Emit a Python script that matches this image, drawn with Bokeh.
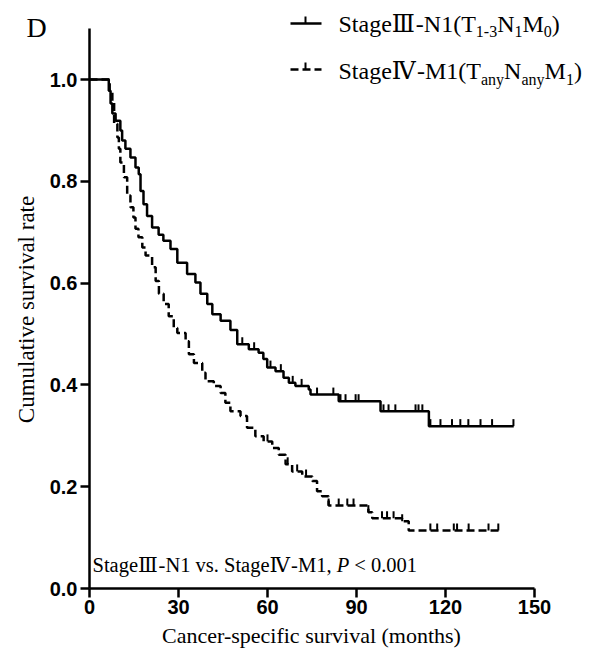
import numpy as np
from bokeh.plotting import figure
from bokeh.models import Range1d, FixedTicker, PrintfTickFormatter, Label
from bokeh.embed import file_html
from bokeh.resources import INLINE

# ---------------- data ----------------
# Stage III-N1 (solid)
t_solid = [6.5, 7.1, 7.7, 8.8, 10.4, 11.0, 12.1, 13.8, 15.5, 16.6, 17.2, 18.2, 19.4,
           21.1, 23.3, 24.9, 27.3, 29.6, 32.9, 35.7, 37.4, 39.7, 41.4, 44.2, 47.5,
           49.8, 53.7, 57.0, 58.6, 59.9, 62.7, 65.4, 67.2, 69.4, 73.9, 74.5, 84.0,
           98.1, 114.4]
s_solid = [0.978, 0.953, 0.933, 0.919, 0.900, 0.880, 0.864, 0.847, 0.827, 0.814, 0.781,
           0.755, 0.732, 0.709, 0.695, 0.683, 0.667, 0.640, 0.618, 0.601, 0.579, 0.559,
           0.539, 0.526, 0.508, 0.480, 0.470, 0.463, 0.451, 0.434, 0.427, 0.414, 0.404,
           0.398, 0.391, 0.381, 0.368, 0.348, 0.319]
end_solid = 143.0
cens_solid = [51.5, 55.5, 61.0, 64.5, 68.5, 71.5, 76.7, 82.2, 84.6, 86.3, 89.7, 90.7,
              99.1, 100.8, 103.1, 109.9, 110.9, 112.2, 114.9, 118.3, 122.2, 125.0,
              127.7, 131.8, 135.7, 142.9]

# Stage IV-M1 (dashed)
t_dash = [6.8, 7.7, 8.3, 9.4, 9.9, 10.4, 11.6, 12.7, 13.8, 14.8, 15.5, 16.5, 17.8,
          18.9, 21.1, 22.3, 23.4, 25.0, 26.7, 28.4, 29.6, 32.4, 33.5, 35.2, 38.0,
          39.1, 41.9, 44.2, 45.8, 47.5, 50.9, 53.1, 55.9, 58.7, 61.6, 63.8, 66.1,
          68.3, 71.7, 75.1, 76.7, 78.4, 80.6, 94.0, 95.3, 105.4, 107.6]
s_dash = [0.975, 0.955, 0.913, 0.886, 0.864, 0.837, 0.808, 0.772, 0.749, 0.729, 0.707,
          0.690, 0.670, 0.654, 0.631, 0.604, 0.579, 0.559, 0.535, 0.512, 0.502, 0.486,
          0.460, 0.443, 0.424, 0.407, 0.398, 0.384, 0.365, 0.348, 0.339, 0.316, 0.299,
          0.289, 0.276, 0.263, 0.244, 0.230, 0.220, 0.211, 0.191, 0.181, 0.163, 0.150,
          0.138, 0.132, 0.114]
end_dash = 138.0
cens_dash = [60.0, 66.8, 70.0, 73.0, 80.6, 84.0, 86.9, 89.0, 94.0, 98.6, 100.3, 102.5,
             105.4, 114.9, 117.2, 122.8, 123.9, 127.8, 134.5, 137.8]

x_ticks = [0, 30, 60, 90, 120, 150]
y_ticks = [0.0, 0.2, 0.4, 0.6, 0.8, 1.0]

stage3 = ("Stage", "Ⅲ", "-N1")
stage4 = ("Stage", "Ⅳ", "-M1")
x_title = "Cancer-specific survival (months)"
y_title = "Cumulative survival rate"
panel_tag = "D"

# ---------------- layout ----------------
W, H = 592, 659
ML, MR, MT, MB = 89, 0, 2, 71
FW, FH = W - ML - MR, H - MT - MB
PXX = (534 - 89) / 150.0          # px per month
PXY = (588 - 79) / 1.0            # px per survival unit
XEND = FW / PXX
YEND = FH / PXY
KB = 0.43                         # baseline correction (fraction of font size)

def px2x(px):
    return (px - 89) / PXX

def py2y(py):
    return (588 - py) / PXY

p = figure(width=W, height=H, output_backend="svg", toolbar_location=None,
           x_range=Range1d(0, XEND), y_range=Range1d(0, YEND),
           min_border_left=ML, min_border_right=MR, min_border_top=MT,
           min_border_bottom=MB)
p.outline_line_color = None
p.xgrid.visible = False
p.ygrid.visible = False
p.background_fill_color = "white"
p.border_fill_color = "white"

for ax in (p.xaxis[0], p.yaxis[0]):
    ax.axis_line_width = 2.5
    ax.major_tick_line_width = 2.5
    ax.major_tick_in = 0
    ax.major_tick_out = 9
    ax.minor_tick_line_color = None
    ax.major_label_text_font = "Liberation Sans"
    ax.major_label_text_font_style = "bold"
    ax.major_label_text_font_size = "20px"
    ax.major_label_text_color = "black"

p.xaxis.bounds = (0, 150)
p.yaxis.bounds = (0, 1.10)
p.xaxis.ticker = FixedTicker(ticks=x_ticks)
p.yaxis.ticker = FixedTicker(ticks=y_ticks)
p.yaxis.formatter = PrintfTickFormatter(format="%.1f")
p.xaxis.major_label_standoff = 2
p.yaxis.major_label_standoff = 3

LW = 2.5
DASH = "8 4"
TICK_H = 7 / PXY

def km(times, surv, end):
    xs = [0.0] + list(times) + [end]
    ys = [1.0] + list(surv) + [surv[-1]]
    return xs, ys

def level_at(times, surv, t):
    idx = np.searchsorted(np.array(times), t, side="right") - 1
    return 1.0 if idx < 0 else surv[idx]

xs, ys = km(t_solid, s_solid, end_solid)
p.step(xs, ys, mode="after", line_color="black", line_width=LW)
cy = [level_at(t_solid, s_solid, t) for t in cens_solid]
p.segment(x0=cens_solid, y0=cy, x1=cens_solid, y1=[v + TICK_H for v in cy],
          line_color="black", line_width=2)

xs, ys = km(t_dash, s_dash, end_dash)
p.step(xs, ys, mode="after", line_color="black", line_width=LW, line_dash=DASH)
cy = [level_at(t_dash, s_dash, t) for t in cens_dash]
p.segment(x0=cens_dash, y0=cy, x1=cens_dash, y1=[v + TICK_H for v in cy],
          line_color="black", line_width=2)

# ---------------- legend (manual, with subscripts) ----------------
for ly, dash in ((23, None), (69, DASH)):
    kw = dict(line_color="black", line_width=LW)
    if dash:
        kw["line_dash"] = dash
    p.line([px2x(290), px2x(321)], [py2y(ly), py2y(ly)], **kw)
    p.segment(x0=[px2x(305)], y0=[py2y(ly)], x1=[px2x(305)], y1=[py2y(ly - 7)],
              line_color="black", line_width=2)

SERIF = "Liberation Serif"
ROMAN = "DejaVu Serif"
CW = {' ': .25, '(': .333, ')': .333, ',': .25, '-': .333, '.': .25, '<': .564,
      'M': .889, 'N': .722, 'P': .611, 'S': .556, 'T': .611, 'V': .722, 'I': .333,
      'a': .444, 'e': .444, 'g': .5, 'n': .5, 's': .389, 't': .278, 'v': .5, 'y': .5,
      'Ⅲ': 1.0, 'Ⅳ': 1.05}
for d in "0123456789":
    CW[d] = .5

def width(txt, size):
    return sum(CW.get(c, .5) for c in txt) * size

def runs(x0, base, pieces):
    x = x0
    for txt, size, font, style, dy in pieces:
        core = txt.strip(" ")
        lead = len(txt) - len(txt.lstrip(" "))
        if core:
            p.add_layout(Label(x=px2x(x + width(" " * lead, size)),
                               y=py2y(base + dy - KB * size),
                               text=core, text_font=font, text_font_size=f"{size}px",
                               text_font_style=style, text_baseline="alphabetic",
                               text_align="left", text_color="black"))
        x += width(txt, size)

def stage(parts, size):
    return [(parts[0], size, SERIF, "normal", 0), (parts[1], size, ROMAN, "normal", 0),
            (parts[2], size, SERIF, "normal", 0)]

F, FS = 24, 16
runs(338, 34, stage(stage3, F) + [
    ("(T", F, SERIF, "normal", 0), ("1-3", FS, SERIF, "normal", 4),
    ("N", F, SERIF, "normal", 0), ("1", FS, SERIF, "normal", 4),
    ("M", F, SERIF, "normal", 0), ("0", FS, SERIF, "normal", 4),
    (")", F, SERIF, "normal", 0)])
runs(338, 81, stage(stage4, F) + [
    ("(T", F, SERIF, "normal", 0), ("any", FS, SERIF, "normal", 5),
    ("N", F, SERIF, "normal", 0), ("any", FS, SERIF, "normal", 5),
    ("M", F, SERIF, "normal", 0), ("1", FS, SERIF, "normal", 5),
    (")", F, SERIF, "normal", 0)])

A = 20.5
runs(92, 573, stage(stage3, A) + [(" vs. ", A, SERIF, "normal", 0)] +
     stage(stage4, A) +
     [(", ", A, SERIF, "normal", 0), ("P", A, SERIF, "italic", 0),
      (" < 0.001", A, SERIF, "normal", 0)])

# ---------------- texts in the side panels (canvas units, not clipped) ----------------
DS, YS, XS = 28, 23, 22
p.add_layout(Label(x=26, y=39 - KB * DS, x_units="canvas", y_units="canvas",
                   text=panel_tag, text_font=SERIF, text_font_size=f"{DS}px",
                   text_baseline="alphabetic", text_align="left",
                   text_color="black"), "left")
p.add_layout(Label(x=36 - KB * YS, y=309, x_units="canvas", y_units="canvas",
                   text=y_title, text_font=SERIF, text_font_size=f"{YS}px",
                   angle=90, angle_units="deg",
                   text_baseline="alphabetic", text_align="center",
                   text_color="black"), "left")
p.add_layout(Label(x=311, y=644 - KB * XS, x_units="canvas", y_units="canvas",
                   text=x_title, text_font=SERIF, text_font_size=f"{XS}px",
                   text_baseline="alphabetic", text_align="center",
                   text_color="black"), "below")

open("out.html", "w").write(file_html(p, INLINE))
